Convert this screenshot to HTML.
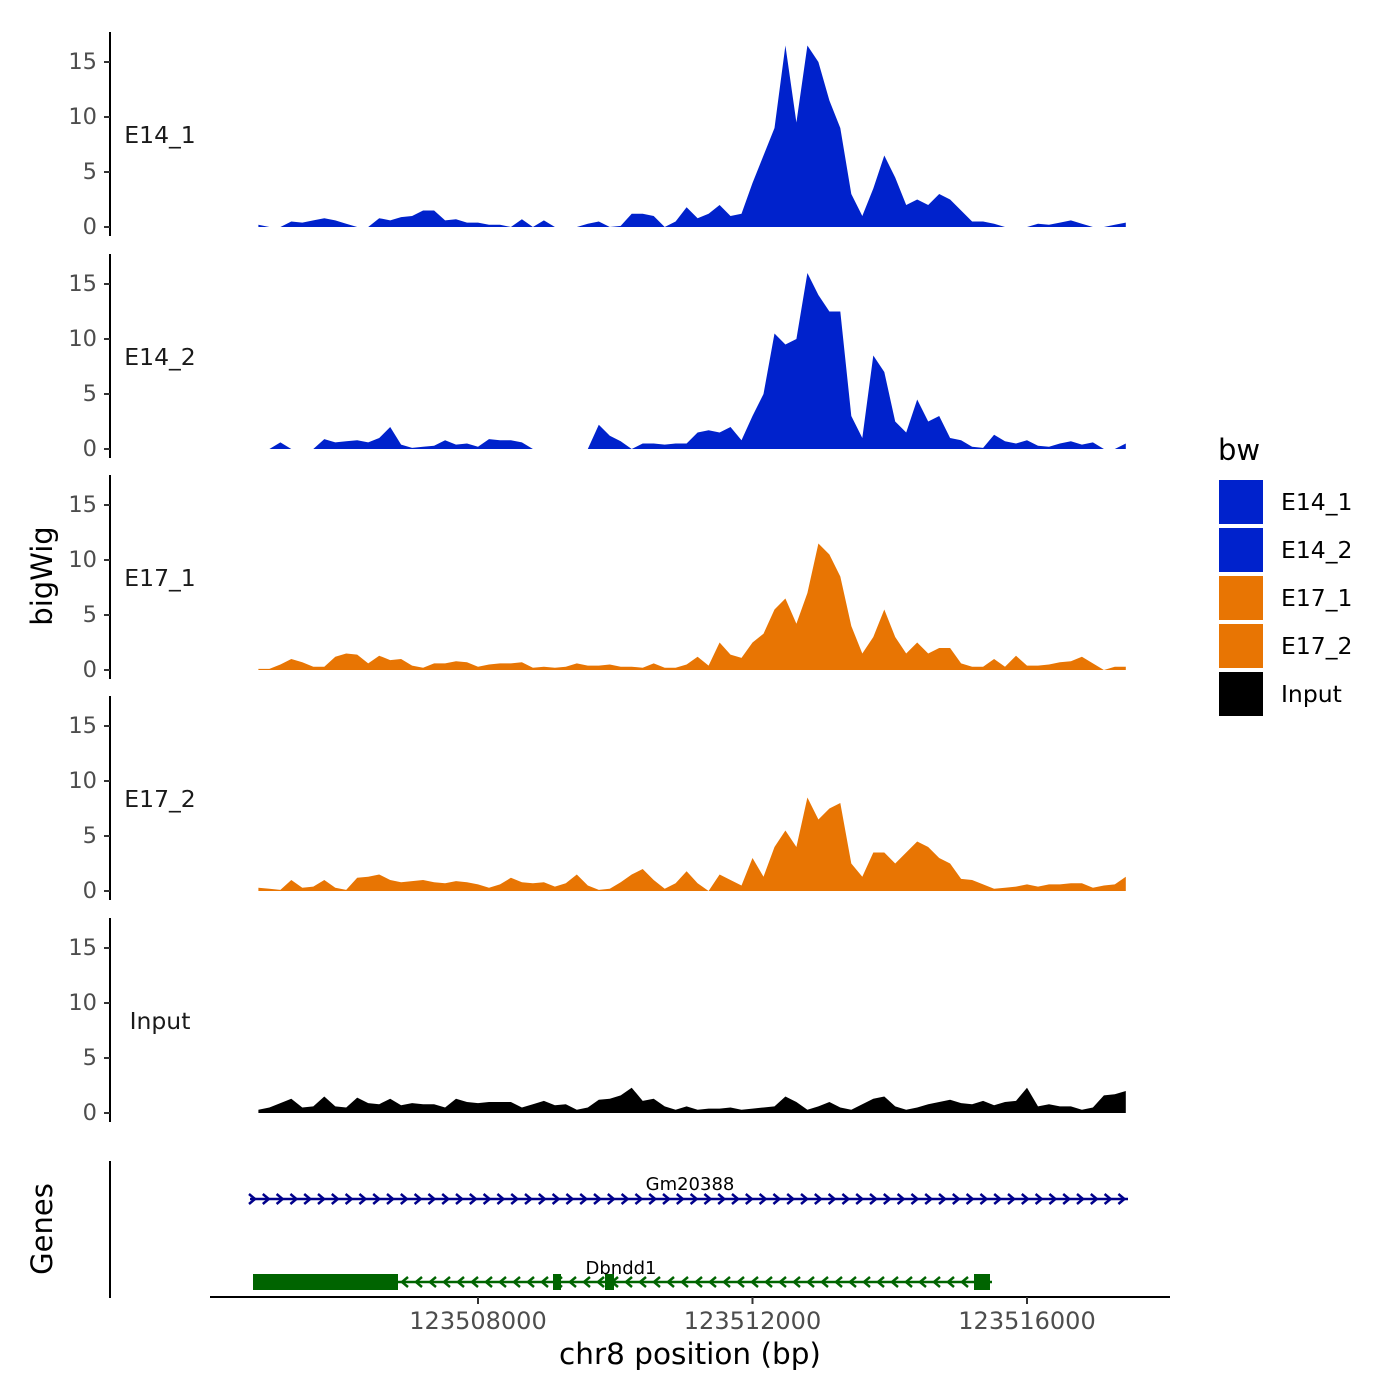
<!DOCTYPE html>
<html><head><meta charset="utf-8"><style>
html,body{margin:0;padding:0;background:#fff}
svg{display:block;font-family:"DejaVu Sans","Liberation Sans",sans-serif}
</style></head><body>
<svg id="chart" width="1400" height="1400" viewBox="0 0 1400 1400" xmlns="http://www.w3.org/2000/svg">
<rect width="1400" height="1400" fill="#fff"/>
<g id="tracks"></g>
<g id="genes"></g>
<text x="42" y="576" transform="rotate(-90 42 576)" text-anchor="middle" dominant-baseline="central" font-size="29" fill="#000">bigWig</text>
<text x="42" y="1229" transform="rotate(-90 42 1229)" text-anchor="middle" dominant-baseline="central" font-size="29" fill="#000">Genes</text>
<line x1="110" y1="1161" x2="110" y2="1298" stroke="#000" stroke-width="2"/>
<line x1="210" y1="1297" x2="1170" y2="1297" stroke="#000" stroke-width="2"/>
<g id="xaxis"></g>
<text x="690" y="1364" text-anchor="middle" font-size="29.5" fill="#000">chr8 position (bp)</text>
<g id="legend">
<text x="1218" y="460" font-size="29" fill="#000">bw</text>
</g>
</svg>
<script>
const NS="http://www.w3.org/2000/svg";
const trackNames=["E14_1","E14_2","E17_1","E17_2","Input"];
const trackColors=["#0022cc","#0022cc","#e87503","#e87503","#000000"];
const startBp=123504800, stepBp=160;
const xTicks=[123508000,123512000,123516000];
const yTicks=[0,5,10,15];
const e14_1=[0.2,0,0,0.5,0.4,0.6,0.8,0.6,0.3,0,0,0.8,0.6,0.9,1.0,1.5,1.5,0.6,0.7,0.4,0.4,0.2,0.2,0,0.7,0,0.6,0,0,0,0.3,0.5,0,0.1,1.2,1.2,1.0,0,0.5,1.8,0.8,1.2,2.0,1.0,1.2,4,6.5,9,16.5,9.5,16.5,15,11.5,9,3,1,3.5,6.5,4.5,2,2.5,2,3,2.5,1.5,0.5,0.5,0.3,0,0,0,0.3,0.2,0.4,0.6,0.3,0,0,0.2,0.4];
const e14_2=[0,0,0.6,0,0,0,0.9,0.6,0.7,0.8,0.6,1.0,2.0,0.4,0.1,0.2,0.3,0.8,0.4,0.5,0.2,0.9,0.8,0.8,0.6,0,0,0,0,0,0,2.2,1.2,0.7,0,0.5,0.5,0.4,0.5,0.5,1.5,1.7,1.5,2,0.8,3,5,10.5,9.5,10,16,14,12.5,12.5,3,1,8.5,7,2.5,1.5,4.5,2.5,3,1,0.8,0.2,0.1,1.3,0.7,0.5,0.8,0.3,0.2,0.5,0.7,0.4,0.6,0,0,0.5];
const e17_1=[0.1,0.1,0.5,1.0,0.7,0.3,0.3,1.2,1.5,1.4,0.6,1.3,0.9,1.0,0.4,0.2,0.6,0.6,0.8,0.7,0.3,0.5,0.6,0.6,0.7,0.2,0.3,0.2,0.3,0.6,0.4,0.4,0.5,0.3,0.3,0.2,0.6,0.2,0.2,0.5,1.2,0.4,2.5,1.4,1.1,2.5,3.3,5.5,6.5,4.2,7,11.5,10.5,8.5,4,1.5,3,5.5,3,1.5,2.5,1.5,2,2,0.6,0.3,0.3,1.0,0.3,1.3,0.4,0.4,0.5,0.7,0.8,1.2,0.6,0,0.3,0.3];
const e17_2=[0.3,0.2,0.1,1.0,0.3,0.4,1.0,0.3,0.1,1.2,1.3,1.5,1.0,0.8,0.9,1.0,0.8,0.7,0.9,0.8,0.6,0.3,0.6,1.2,0.8,0.7,0.8,0.4,0.7,1.5,0.5,0.1,0.2,0.8,1.5,2.0,1.0,0.2,0.7,1.8,0.7,0,1.5,1.0,0.5,3,1.3,4,5.5,4,8.5,6.5,7.5,8,2.5,1.3,3.5,3.5,2.5,3.5,4.5,4,3,2.5,1.1,1.0,0.6,0.2,0.3,0.4,0.6,0.4,0.6,0.6,0.7,0.7,0.3,0.5,0.6,1.3];
const input=[0.3,0.5,0.9,1.3,0.5,0.6,1.5,0.6,0.5,1.4,0.9,0.8,1.3,0.7,0.9,0.8,0.8,0.5,1.3,1.0,0.9,1.0,1.0,1.0,0.5,0.8,1.1,0.7,0.8,0.3,0.5,1.2,1.3,1.6,2.3,1.1,1.3,0.6,0.3,0.6,0.3,0.4,0.4,0.5,0.3,0.4,0.5,0.6,1.5,1.0,0.3,0.6,1.0,0.5,0.3,0.8,1.3,1.5,0.6,0.3,0.5,0.8,1.0,1.2,0.9,0.8,1.1,0.7,1.0,1.1,2.3,0.6,0.8,0.6,0.6,0.3,0.5,1.6,1.7,2.0];
const series=[e14_1,e14_2,e17_1,e17_2,input];

function xScale(bp){return 478+(bp-123508000)*(1027-478)/8000;}
const baselines=[227,449,670,891,1113];
function yScale(v,t){return baselines[t]-v*11;}

const tracks=document.getElementById('tracks');
function mk(tag,attrs,parent){const e=document.createElementNS(NS,tag);for(const k in attrs)e.setAttribute(k,attrs[k]);parent.appendChild(e);return e;}

series.forEach((vals,t)=>{
  const g=mk('g',{},tracks);
  
  
  const b=baselines[t];
  const ax=mk('line',{x1:110,y1:b-195,x2:110,y2:b+9,stroke:'#000','stroke-width':2},g);
  
  
  yTicks.forEach(v=>{
    const y=yScale(v,t);
    const tk=mk('line',{x1:104,y1:y,x2:110,y2:y,stroke:'#333','stroke-width':2},g);
    
    
    const tl=mk('text',{x:97,y:y,'text-anchor':'end','dominant-baseline':'central','font-size':22.5,fill:'#4d4d4d'},g);
    tl.textContent=v;
    
    
  });
  const lab=mk('text',{x:160,y:b-92,'text-anchor':'middle','dominant-baseline':'central','font-size':23.5,fill:'#1a1a1a'},g);
  lab.textContent=trackNames[t];
  
  
  let d='M'+xScale(startBp).toFixed(1)+','+b;
  vals.forEach((v,i)=>{d+=' L'+xScale(startBp+i*stepBp).toFixed(1)+','+yScale(v,t).toFixed(1);});
  d+=' L'+xScale(startBp+(vals.length-1)*stepBp).toFixed(1)+','+b+' Z';
  const p=mk('path',{d:d,fill:trackColors[t],'stroke-linejoin':'round'},g);
  
  
});

const xa=document.getElementById('xaxis');
xTicks.forEach(v=>{
  const x=xScale(v);
  const l=mk('line',{x1:x,y1:1297,x2:x,y2:1304,stroke:'#333','stroke-width':2},xa);
  
  
  const tx=mk('text',{x:x,y:1329,'text-anchor':'middle','font-size':24,fill:'#4d4d4d'},xa);
  tx.textContent=v;
  
  
});

const gg=document.getElementById('genes');
const g1=mk('g',{},gg);


mk('line',{x1:250,y1:1199,x2:1128,y2:1199,stroke:'#00008b','stroke-width':2.5},g1);
for(let x=252;x<=1128;x+=13.8){mk('polyline',{points:(x-3)+',1194 '+(x+3)+',1199 '+(x-3)+',1204',fill:'none',stroke:'#00008b','stroke-width':2.5},g1);}
const t1=mk('text',{x:690,y:1190,'text-anchor':'middle','font-size':18,fill:'#000'},g1);
t1.textContent='Gm20388';



const g2=mk('g',{},gg);


mk('line',{x1:253,y1:1282,x2:992,y2:1282,stroke:'#006400','stroke-width':2.5},g2);
for(let x=405;x<=975;x+=14){mk('polyline',{points:(x+3)+',1277 '+(x-3)+',1282 '+(x+3)+',1287',fill:'none',stroke:'#006400','stroke-width':2.5},g2);}
[[253,398],[553,561],[605,614],[974,990]].forEach(e=>{mk('rect',{x:e[0],y:1274,width:e[1]-e[0],height:16,fill:'#006400'},g2);});
const t2=mk('text',{x:621,y:1274,'text-anchor':'middle','font-size':18,fill:'#000'},g2);
t2.textContent='Dbndd1';



const lg=document.getElementById('legend');
const legNames=["E14_1","E14_2","E17_1","E17_2","Input"];
const legCols=["#0022cc","#0022cc","#e87503","#e87503","#000000"];
legNames.forEach((n,i)=>{
  const y=480+i*48;
  const r=mk('rect',{x:1219,y:y,width:44,height:44,fill:legCols[i]},lg);
  
  
  const tx=mk('text',{x:1281,y:y+22,'dominant-baseline':'central','font-size':23.5,fill:'#000'},lg);
  tx.textContent=n;
  
  
});
</script>
</body></html>
